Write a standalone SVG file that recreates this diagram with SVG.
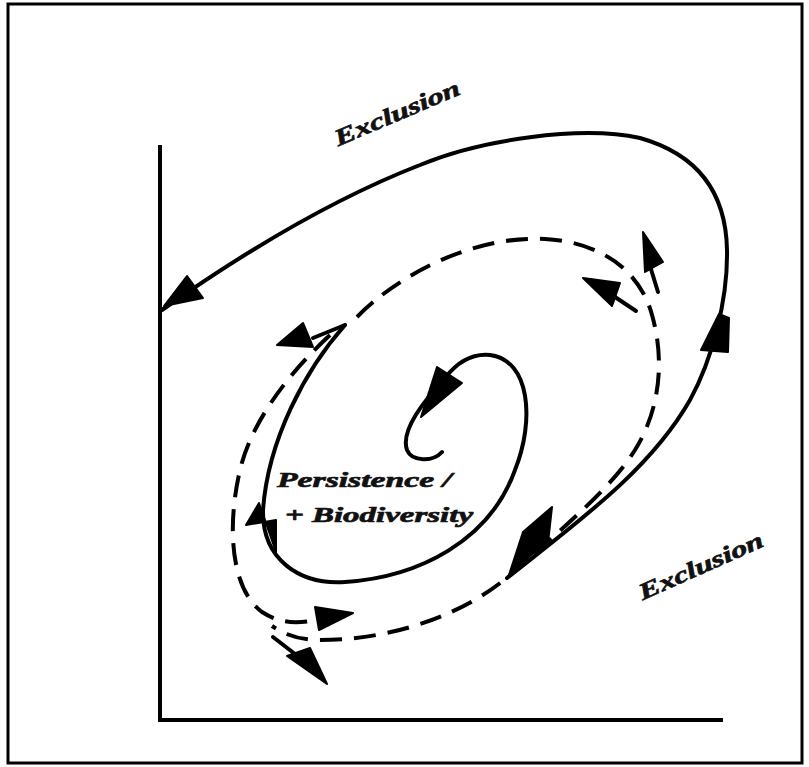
<svg xmlns="http://www.w3.org/2000/svg" width="809" height="767" viewBox="0 0 809 767">
<style>
.sol{fill:none;stroke:#000;stroke-width:4;stroke-linecap:round;stroke-linejoin:round}
.dsh{fill:none;stroke:#000;stroke-width:4;stroke-dasharray:22 12;stroke-linecap:butt}
.ah{fill:#000;stroke:#000;stroke-width:2;stroke-linejoin:round}
.lbl{font-family:"Liberation Serif",serif;font-weight:bold;font-style:italic;fill:#111;stroke:#111;stroke-width:0.7}
</style>
<rect x="8" y="4" width="794" height="759" fill="#fff" stroke="#000" stroke-width="3"/>
<g id="axes">
<line x1="160" y1="145" x2="160" y2="722" stroke="#000" stroke-width="4"/>
<line x1="158" y1="720" x2="723" y2="720" stroke="#000" stroke-width="4"/>
</g>
<g id="connectors">
<path class="sol" d="M507,578 C580,520 650,470 690,400 C712,360 728,300 727,250 C726,195 700,155 640,138 C580,125 480,140 420,165 C330,200 240,255 162,310"/>
<polygon class="ah" points="164,306 187,276 203,298"/>
<polygon class="ah" points="701,350 719,314 729,318 728,352"/>
<polygon class="ah" points="508,578 523,532 552,507 548,543 530,556"/>
<path class="sol" d="M345,325 C305,370 268,440 263,510 C262,560 300,585 345,582 C420,577 490,540 515,470 C535,420 530,360 490,355 C470,353 455,365 445,378 C425,400 400,430 407,450 C412,462 433,462 442,452"/>
<polygon class="ah" points="259,503 246,525 276,520 276,552"/>
<polygon class="ah" points="437,367 462,383 421,417"/>
<path class="sol" d="M345,325 L313,338"/>
<polygon class="ah" points="277,345 303,323 313,347"/>
<path class="dsh" d="M357,317 C395,278 470,235 545,239 C600,242 640,270 652,315 C665,360 660,410 635,450 C610,490 560,530 510,575 C470,610 400,640 320,640 C300,640 285,635 272,626"/>
<path class="dsh" d="M330,335 C290,372 252,420 240,470 C226,530 232,590 262,612 C282,625 300,623 316,620"/>
<polygon class="ah" points="315,607 353,613 319,630"/>
<path class="sol" d="M273,637 L295,654"/>
<polygon class="ah" points="287,656 310,648 327,684"/>
<path class="sol" d="M636,311 L612,295"/>
<polygon class="ah" points="583,278 620,283 612,306"/>
<path class="sol" d="M658,292 L650,266"/>
<polygon class="ah" points="643,232 663,262 645,272"/>
</g>
<g id="label-exclusion-top">
<text class="lbl" x="400" y="120" font-size="23" text-anchor="middle" textLength="134" lengthAdjust="spacingAndGlyphs" transform="rotate(-23 400 120)">Exclusion</text>
</g>
<g id="label-exclusion-right">
<text class="lbl" x="704" y="573" font-size="23" text-anchor="middle" textLength="134" lengthAdjust="spacingAndGlyphs" transform="rotate(-24 704 573)">Exclusion</text>
</g>
<g id="label-persistence">
<text class="lbl" x="277" y="487" font-size="22" textLength="175" lengthAdjust="spacingAndGlyphs">Persistence /</text>
<text class="lbl" x="285" y="522" font-size="22" textLength="188" lengthAdjust="spacingAndGlyphs">+ Biodiversity</text>
</g>
</svg>
